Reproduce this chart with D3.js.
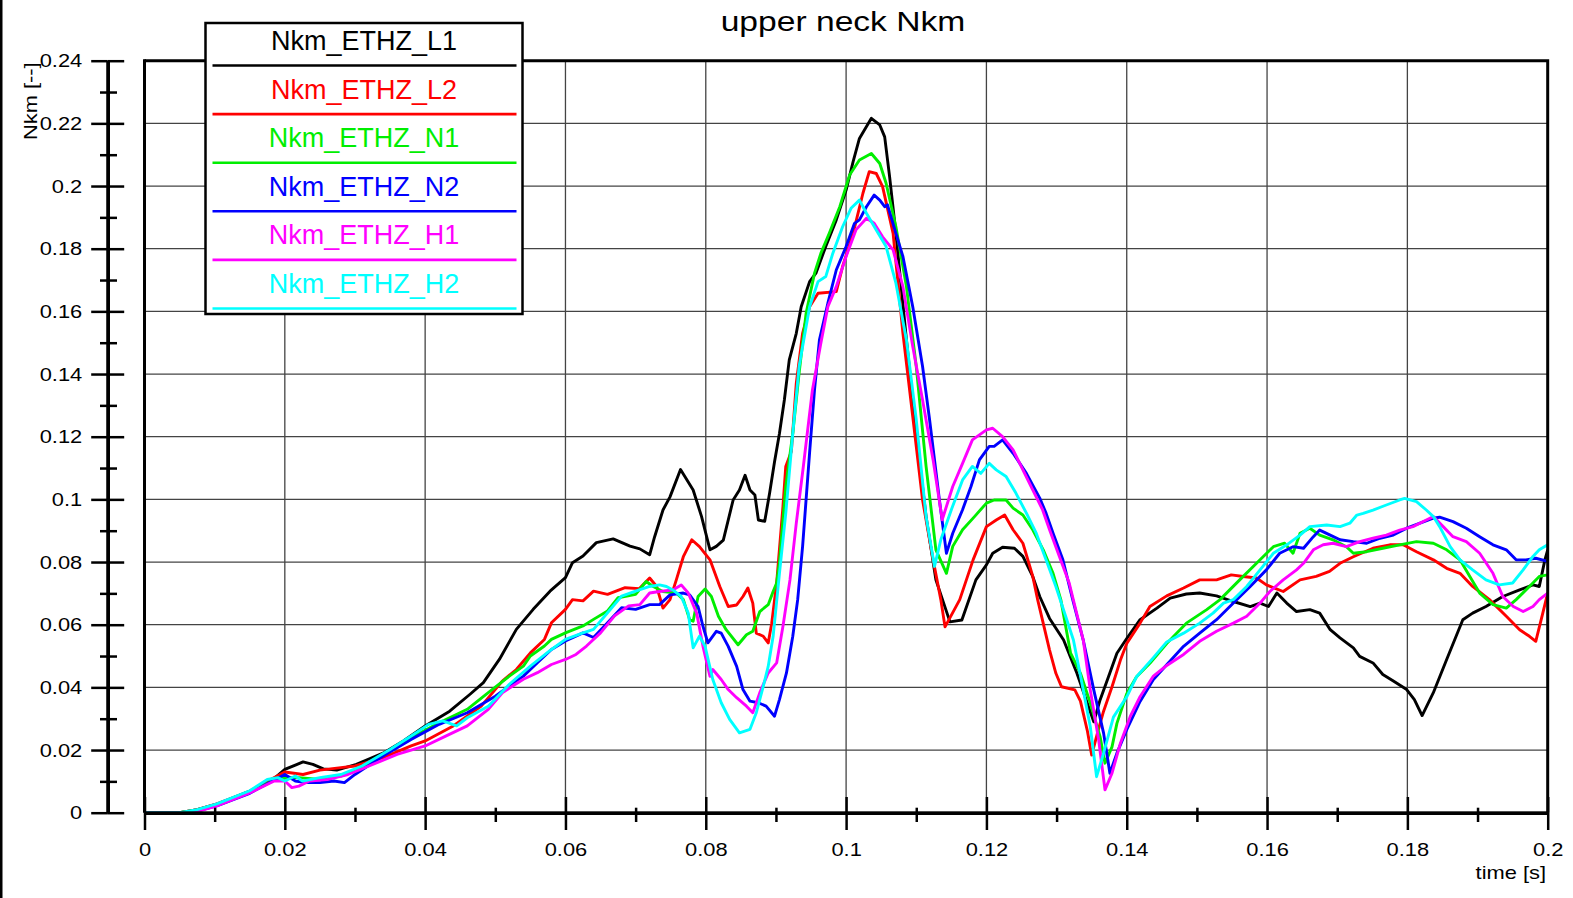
<!DOCTYPE html>
<html>
<head>
<meta charset="utf-8">
<script src="https://cdn.jsdelivr.net/npm/d3@7"></script>
<style>
  body { margin: 0; background: #fff; }
  svg { display: block; font-family: "Liberation Sans", Arial, sans-serif; }
</style>
</head>
<body>
<div id="chart"></div>
<script>
// tick values
let xMajor = [0, 0.02, 0.04, 0.06, 0.08, 0.1, 0.12, 0.14, 0.16, 0.18, 0.2];
let xMinor = [0.01, 0.03, 0.05, 0.07, 0.09, 0.11, 0.13, 0.15, 0.17, 0.19];
let yMajor = [0, 0.02, 0.04, 0.06, 0.08, 0.1, 0.12, 0.14, 0.16, 0.18, 0.2, 0.22, 0.24];
let yMinor = [0.01, 0.03, 0.05, 0.07, 0.09, 0.11, 0.13, 0.15, 0.17, 0.19, 0.21, 0.23];

let names = ["Nkm_ETHZ_L1", "Nkm_ETHZ_L2", "Nkm_ETHZ_N1", "Nkm_ETHZ_N2", "Nkm_ETHZ_H1", "Nkm_ETHZ_H2"];
let colors = ["#000000", "#ff0000", "#00ee00", "#0000ff", "#ff00ff", "#00ffff"];

// [time s, Nkm]
let nkmL1 = [[0,0],[0.005,0],[0.0075,0.001],[0.0103,0.0027],[0.015,0.0069],[0.0183,0.0106],[0.02,0.0138],[0.0215,0.0152],[0.0226,0.0162],[0.024,0.0154],[0.0255,0.014],[0.0274,0.0136],[0.0302,0.0154],[0.034,0.019],[0.0369,0.0229],[0.04,0.0277],[0.0435,0.0324],[0.0464,0.0378],[0.0483,0.0415],[0.0506,0.049],[0.053,0.0585],[0.0554,0.0649],[0.0578,0.0707],[0.06,0.075],[0.061,0.0798],[0.0625,0.0819],[0.0644,0.0862],[0.0668,0.0874],[0.0692,0.0851],[0.0706,0.0842],[0.072,0.0823],[0.0727,0.088],[0.0739,0.0966],[0.0749,0.1008],[0.0764,0.1095],[0.0782,0.103],[0.0794,0.0945],[0.0806,0.0839],[0.0815,0.085],[0.0825,0.087],[0.0839,0.0998],[0.0848,0.103],[0.0856,0.1077],[0.0863,0.103],[0.087,0.1014],[0.0875,0.0934],[0.0884,0.093],[0.0891,0.102],[0.0898,0.112],[0.0905,0.121],[0.0912,0.1317],[0.0919,0.1445],[0.0929,0.153],[0.0936,0.1615],[0.0948,0.1695],[0.0957,0.1722],[0.0971,0.1807],[0.0986,0.1892],[0.1,0.1987],[0.101,0.2078],[0.1019,0.2152],[0.1036,0.2216],[0.1048,0.2195],[0.1055,0.2157],[0.1062,0.203],[0.1071,0.1849],[0.1086,0.1509],[0.11,0.1211],[0.1114,0.0945],[0.1128,0.0743],[0.1148,0.0609],[0.1165,0.0615],[0.1185,0.0743],[0.12,0.0791],[0.1209,0.0828],[0.1223,0.0847],[0.124,0.0844],[0.1252,0.0818],[0.1266,0.0754],[0.1276,0.069],[0.129,0.062],[0.131,0.0551],[0.1329,0.0445],[0.1353,0.029],[0.1362,0.036],[0.1374,0.0434],[0.1386,0.0509],[0.14,0.0556],[0.1419,0.0616],[0.1443,0.0653],[0.1462,0.0685],[0.1485,0.0698],[0.1504,0.0701],[0.1528,0.0692],[0.1552,0.0674],[0.1576,0.0658],[0.159,0.0669],[0.1602,0.0658],[0.1614,0.0701],[0.1628,0.0669],[0.1642,0.0642],[0.1661,0.0648],[0.1675,0.0637],[0.169,0.0584],[0.1704,0.0558],[0.1723,0.0526],[0.1732,0.0499],[0.1751,0.0478],[0.1765,0.0441],[0.178,0.042],[0.1799,0.0393],[0.181,0.0361],[0.1821,0.031],[0.1837,0.0383],[0.1856,0.0489],[0.1879,0.0616],[0.1893,0.0637],[0.1912,0.0658],[0.1936,0.069],[0.196,0.0711],[0.1979,0.0727],[0.1988,0.0722],[0.1996,0.0807],[0.2,0.0839]];

let nkmL2 = [[0,0],[0.005,0],[0.0075,0.001],[0.0103,0.0028],[0.015,0.0068],[0.0183,0.011],[0.02,0.013],[0.0226,0.0122],[0.025,0.0136],[0.028,0.0144],[0.03,0.0149],[0.034,0.0176],[0.038,0.0213],[0.04,0.0229],[0.044,0.0277],[0.048,0.034],[0.051,0.042],[0.053,0.0457],[0.055,0.051],[0.057,0.0553],[0.058,0.0606],[0.06,0.0649],[0.061,0.068],[0.0625,0.0676],[0.064,0.0707],[0.066,0.0697],[0.0685,0.0718],[0.0705,0.0715],[0.072,0.0749],[0.073,0.0722],[0.0739,0.0653],[0.0749,0.068],[0.0758,0.0743],[0.0768,0.0817],[0.078,0.0871],[0.0791,0.0849],[0.0806,0.0807],[0.082,0.0722],[0.0832,0.0658],[0.0844,0.0663],[0.0853,0.069],[0.086,0.0717],[0.0867,0.0669],[0.0872,0.0573],[0.0882,0.0563],[0.0889,0.0542],[0.0894,0.0605],[0.0901,0.0733],[0.091,0.0977],[0.0914,0.1105],[0.0922,0.1153],[0.0929,0.137],[0.0938,0.153],[0.0948,0.1615],[0.096,0.1658],[0.0986,0.1663],[0.0995,0.1743],[0.101,0.1849],[0.1024,0.1977],[0.1033,0.2046],[0.1043,0.204],[0.1052,0.1998],[0.1067,0.1849],[0.1081,0.153],[0.1095,0.1264],[0.1109,0.0998],[0.1124,0.0807],[0.1135,0.068],[0.1141,0.0593],[0.1162,0.068],[0.1181,0.0807],[0.12,0.0913],[0.1214,0.0934],[0.1226,0.095],[0.1238,0.0903],[0.1252,0.086],[0.1266,0.0755],[0.1273,0.068],[0.129,0.0519],[0.1299,0.0445],[0.1307,0.0402],[0.1326,0.0392],[0.1334,0.0356],[0.1344,0.026],[0.135,0.0184],[0.1359,0.026],[0.1367,0.0324],[0.1379,0.0402],[0.1391,0.0487],[0.14,0.054],[0.1419,0.0605],[0.1433,0.0658],[0.1457,0.0692],[0.1481,0.0717],[0.1504,0.0743],[0.1528,0.0743],[0.1549,0.0759],[0.1566,0.0754],[0.1585,0.0749],[0.1599,0.0727],[0.1623,0.0706],[0.1647,0.0743],[0.167,0.0754],[0.1689,0.077],[0.1704,0.0796],[0.1723,0.0817],[0.1751,0.0844],[0.1775,0.0855],[0.1794,0.0855],[0.1813,0.0833],[0.1837,0.0807],[0.1856,0.078],[0.1875,0.0764],[0.1893,0.0722],[0.1917,0.068],[0.1941,0.0627],[0.196,0.0584],[0.1974,0.0563],[0.1983,0.0547],[0.1993,0.0637],[0.2,0.0701]];

let nkmN1 = [[0,0],[0.005,0],[0.0075,0.0009],[0.0103,0.0026],[0.015,0.0066],[0.0183,0.0103],[0.02,0.0112],[0.022,0.0112],[0.025,0.0106],[0.028,0.0117],[0.03,0.0133],[0.034,0.0186],[0.038,0.0239],[0.042,0.0287],[0.046,0.033],[0.049,0.0383],[0.052,0.0436],[0.054,0.0468],[0.055,0.05],[0.057,0.0532],[0.058,0.0553],[0.06,0.0574],[0.0625,0.0596],[0.064,0.0617],[0.066,0.0644],[0.0675,0.0686],[0.07,0.0697],[0.0715,0.0738],[0.0725,0.0722],[0.0739,0.0706],[0.0758,0.0701],[0.0768,0.068],[0.0777,0.0616],[0.0782,0.0611],[0.0789,0.069],[0.0799,0.0714],[0.0808,0.069],[0.0818,0.0627],[0.0829,0.0584],[0.0846,0.0536],[0.0858,0.0568],[0.0867,0.0579],[0.0877,0.0642],[0.0889,0.0664],[0.0896,0.0706],[0.0901,0.0733],[0.0905,0.08],[0.0914,0.1041],[0.0924,0.1211],[0.0933,0.1403],[0.0943,0.1594],[0.0955,0.1722],[0.0964,0.1785],[0.0976,0.1849],[0.0991,0.1934],[0.1005,0.2035],[0.1019,0.2083],[0.1036,0.2104],[0.1048,0.2072],[0.1057,0.2009],[0.1071,0.187],[0.1086,0.1679],[0.11,0.1424],[0.1114,0.1105],[0.1128,0.0839],[0.1143,0.0764],[0.1152,0.085],[0.1166,0.0903],[0.1183,0.0945],[0.12,0.0988],[0.1211,0.0998],[0.1228,0.0998],[0.1238,0.0972],[0.1252,0.095],[0.1266,0.0903],[0.1281,0.0839],[0.1295,0.0764],[0.1306,0.068],[0.132,0.0509],[0.1334,0.0445],[0.1348,0.035],[0.1362,0.0243],[0.1369,0.0158],[0.1379,0.021],[0.1386,0.0285],[0.14,0.038],[0.1414,0.0434],[0.1433,0.0477],[0.1457,0.054],[0.1485,0.0605],[0.1514,0.0648],[0.1533,0.068],[0.1561,0.0743],[0.1585,0.0796],[0.1609,0.0849],[0.1625,0.086],[0.1637,0.0828],[0.1647,0.0892],[0.1661,0.0908],[0.1675,0.0886],[0.1694,0.0871],[0.1713,0.0849],[0.1723,0.0828],[0.1742,0.0833],[0.1765,0.0844],[0.1789,0.0855],[0.1813,0.0865],[0.1837,0.086],[0.1856,0.0839],[0.1875,0.0807],[0.1889,0.0754],[0.1903,0.0701],[0.1922,0.0664],[0.1941,0.0653],[0.1955,0.068],[0.1974,0.0722],[0.1988,0.0754],[0.2,0.0759]];

let nkmN2 = [[0,0],[0.006,0],[0.008,0.0008],[0.0103,0.0022],[0.015,0.0062],[0.0183,0.0102],[0.02,0.0122],[0.0215,0.0101],[0.023,0.0096],[0.025,0.0096],[0.027,0.0101],[0.0285,0.0096],[0.03,0.0122],[0.034,0.0181],[0.038,0.0234],[0.042,0.0282],[0.046,0.0319],[0.05,0.0372],[0.054,0.0436],[0.056,0.0479],[0.058,0.0521],[0.06,0.0548],[0.0625,0.0574],[0.064,0.0559],[0.066,0.0606],[0.068,0.0654],[0.07,0.0649],[0.072,0.0664],[0.0734,0.0664],[0.0749,0.0695],[0.0768,0.0701],[0.0777,0.0695],[0.0789,0.0658],[0.0796,0.0595],[0.0803,0.0542],[0.0815,0.0579],[0.0822,0.0573],[0.0832,0.0531],[0.0844,0.0467],[0.0853,0.0393],[0.0863,0.0356],[0.0875,0.0351],[0.0886,0.034],[0.0898,0.0308],[0.0905,0.0361],[0.0915,0.0446],[0.0924,0.0563],[0.0931,0.068],[0.0938,0.085],[0.0948,0.115],[0.0955,0.135],[0.0962,0.1509],[0.0974,0.1626],[0.0986,0.1732],[0.1,0.1807],[0.1012,0.1881],[0.1019,0.1892],[0.1029,0.1934],[0.104,0.1971],[0.1048,0.1955],[0.1055,0.1934],[0.1059,0.194],[0.1071,0.1849],[0.1081,0.1775],[0.1095,0.1615],[0.1109,0.1424],[0.1119,0.1254],[0.1133,0.0998],[0.1143,0.0828],[0.1152,0.0892],[0.1166,0.0967],[0.1178,0.1041],[0.119,0.1126],[0.1204,0.1169],[0.1211,0.1169],[0.1223,0.119],[0.1238,0.1147],[0.1257,0.1083],[0.1276,0.1004],[0.1285,0.0956],[0.1295,0.0892],[0.1309,0.0807],[0.1323,0.068],[0.1338,0.0551],[0.1353,0.0392],[0.1367,0.0254],[0.1376,0.0126],[0.1386,0.019],[0.14,0.0265],[0.1419,0.0355],[0.1438,0.0425],[0.1457,0.0472],[0.1481,0.0531],[0.1504,0.0573],[0.1528,0.0616],[0.1552,0.0669],[0.1576,0.0722],[0.1599,0.0775],[0.1618,0.0828],[0.1637,0.0849],[0.1652,0.0844],[0.1666,0.0881],[0.1675,0.0902],[0.169,0.0886],[0.1704,0.0871],[0.1723,0.0865],[0.1742,0.086],[0.1761,0.0876],[0.178,0.0886],[0.1799,0.0908],[0.1818,0.0924],[0.1837,0.094],[0.1846,0.0943],[0.1865,0.0929],[0.1884,0.0908],[0.1903,0.0881],[0.1922,0.0855],[0.1941,0.0839],[0.1955,0.0807],[0.1969,0.0807],[0.1983,0.0812],[0.2,0.0802]];

let nkmH1 = [[0,0],[0.006,0],[0.008,0.0007],[0.0103,0.0022],[0.015,0.0063],[0.0185,0.0101],[0.02,0.0101],[0.021,0.008],[0.022,0.0085],[0.0235,0.0101],[0.026,0.0106],[0.029,0.0122],[0.032,0.0149],[0.036,0.0186],[0.04,0.0213],[0.043,0.0245],[0.046,0.0277],[0.049,0.033],[0.051,0.0383],[0.054,0.0426],[0.056,0.0447],[0.058,0.0473],[0.06,0.0489],[0.0615,0.0505],[0.063,0.0532],[0.065,0.0574],[0.067,0.0628],[0.069,0.066],[0.0706,0.0664],[0.072,0.0701],[0.0734,0.0706],[0.0753,0.0711],[0.0765,0.0727],[0.0775,0.0701],[0.0787,0.0637],[0.0796,0.0531],[0.0806,0.0435],[0.081,0.0457],[0.0822,0.0425],[0.0832,0.0393],[0.0844,0.0367],[0.0858,0.034],[0.0867,0.0319],[0.0877,0.0383],[0.0889,0.0446],[0.0901,0.0478],[0.091,0.0595],[0.092,0.0743],[0.0929,0.0924],[0.0939,0.1104],[0.0952,0.1349],[0.0964,0.1498],[0.0974,0.1615],[0.0986,0.1679],[0.1,0.1775],[0.1014,0.186],[0.1029,0.1897],[0.104,0.1881],[0.1052,0.1838],[0.1067,0.1796],[0.1081,0.1679],[0.1095,0.1488],[0.1109,0.1317],[0.1124,0.1126],[0.1137,0.0935],[0.1152,0.1041],[0.1166,0.1115],[0.118,0.119],[0.12,0.1222],[0.1209,0.1227],[0.1223,0.12],[0.1238,0.1158],[0.1252,0.1094],[0.1266,0.103],[0.128,0.0967],[0.129,0.0903],[0.1304,0.0818],[0.1318,0.0733],[0.1338,0.0551],[0.1348,0.0392],[0.136,0.0232],[0.1369,0.0073],[0.1379,0.0126],[0.1391,0.0222],[0.1405,0.0307],[0.1419,0.037],[0.1438,0.0436],[0.1457,0.047],[0.1481,0.0505],[0.1504,0.0547],[0.1528,0.0579],[0.1552,0.0605],[0.1571,0.0627],[0.159,0.0669],[0.1604,0.0706],[0.1623,0.0743],[0.1642,0.0775],[0.1652,0.0796],[0.1666,0.0839],[0.168,0.0855],[0.1694,0.086],[0.1713,0.0849],[0.1732,0.0865],[0.1751,0.0876],[0.177,0.0886],[0.1789,0.0902],[0.1808,0.0913],[0.1827,0.0934],[0.1837,0.0945],[0.1851,0.0913],[0.1865,0.0881],[0.1884,0.0865],[0.1903,0.0828],[0.1922,0.0764],[0.1936,0.069],[0.1951,0.0658],[0.1965,0.0642],[0.1979,0.0658],[0.1988,0.068],[0.2,0.0701]];

let nkmH2 = [[0,0],[0.005,0],[0.0075,0.001],[0.0103,0.0028],[0.015,0.007],[0.0175,0.0106],[0.019,0.0112],[0.02,0.0101],[0.0215,0.0117],[0.0225,0.0101],[0.025,0.0112],[0.028,0.0122],[0.031,0.0149],[0.035,0.0202],[0.038,0.0245],[0.0405,0.0282],[0.0425,0.0293],[0.0445,0.0277],[0.046,0.0303],[0.049,0.034],[0.052,0.041],[0.055,0.0468],[0.058,0.0521],[0.06,0.0553],[0.0625,0.0574],[0.064,0.0585],[0.066,0.0638],[0.068,0.0691],[0.07,0.0707],[0.072,0.0722],[0.0734,0.0727],[0.0744,0.0722],[0.0753,0.0711],[0.0765,0.069],[0.0775,0.0637],[0.0782,0.0526],[0.0791,0.0563],[0.0799,0.0531],[0.081,0.0425],[0.0822,0.0351],[0.0834,0.0298],[0.0848,0.0255],[0.0863,0.0266],[0.0872,0.0319],[0.0882,0.0404],[0.0889,0.0467],[0.0896,0.0563],[0.0905,0.0764],[0.0914,0.0955],[0.0924,0.1211],[0.0933,0.1424],[0.0948,0.1615],[0.096,0.1695],[0.0971,0.1711],[0.0981,0.1785],[0.0995,0.187],[0.1007,0.1929],[0.1019,0.1955],[0.1029,0.1913],[0.1043,0.186],[0.1057,0.1807],[0.1071,0.169],[0.1086,0.1509],[0.11,0.1254],[0.1114,0.0945],[0.1126,0.0786],[0.1135,0.0871],[0.115,0.0967],[0.1166,0.1062],[0.118,0.1105],[0.1192,0.1083],[0.1204,0.1115],[0.1214,0.1094],[0.1228,0.1073],[0.1242,0.102],[0.1257,0.0956],[0.1271,0.0892],[0.1285,0.0807],[0.1299,0.0722],[0.1324,0.0551],[0.1338,0.0392],[0.1348,0.0275],[0.1357,0.0115],[0.1367,0.019],[0.1381,0.0305],[0.14,0.037],[0.1414,0.0434],[0.1438,0.0495],[0.1457,0.0545],[0.1481,0.0573],[0.1504,0.0605],[0.1523,0.0637],[0.1538,0.0669],[0.1552,0.068],[0.1571,0.0722],[0.159,0.0775],[0.1609,0.0828],[0.1628,0.0855],[0.1647,0.0886],[0.1661,0.0913],[0.1685,0.0918],[0.1704,0.0913],[0.1718,0.0924],[0.1728,0.095],[0.1737,0.0955],[0.1751,0.0966],[0.177,0.0982],[0.1789,0.0998],[0.1796,0.1003],[0.1813,0.0993],[0.1827,0.0966],[0.1837,0.0945],[0.1846,0.0913],[0.1861,0.0849],[0.1875,0.0807],[0.1893,0.0775],[0.1912,0.0743],[0.1931,0.0727],[0.195,0.0733],[0.1965,0.0775],[0.1979,0.0818],[0.1988,0.0839],[0.2,0.0855]];

let series = [nkmL1, nkmL2, nkmN1, nkmN2, nkmH1, nkmH2];

// page layout
let width = 1573, height = 898;
let pLeft = 144.5, pRight = 1547.7, pTop = 60.7, pBottom = 812.7;
let yAxisX = 107.7;

let svg = d3.select("#chart").append("svg")
	.attr("width", width)
	.attr("height", height);

let x = d3.scaleLinear().domain([0, 0.2]).range([pLeft, pRight]);
let y = d3.scaleLinear().domain([0, 0.24]).range([pBottom, pTop]);

let fmt = (d) => String(+d.toFixed(2));

// widen text a bit, the original font runs wider than Liberation Sans
function stretch(sel, k) {
	sel.each(function () {
		let w = this.getComputedTextLength();
		d3.select(this).attr("textLength", w * k).attr("lengthAdjust", "spacingAndGlyphs");
	});
}

// black strip on the left edge of the picture
svg.append("rect").attr("x", 0).attr("y", 0).attr("width", 2.5).attr("height", height).attr("fill", "#000");

// grid
svg.append("g").selectAll("line")
	.data(xMajor.slice(1, -1)).enter().append("line")
	.attr("x1", (d) => x(d)).attr("x2", (d) => x(d))
	.attr("y1", pTop).attr("y2", pBottom)
	.attr("stroke", "#444").attr("stroke-width", 1.3);
svg.append("g").selectAll("line")
	.data(yMajor.slice(1, -1)).enter().append("line")
	.attr("y1", (d) => y(d)).attr("y2", (d) => y(d))
	.attr("x1", pLeft).attr("x2", pRight)
	.attr("stroke", "#444").attr("stroke-width", 1.3);

// curves
let line = d3.line().x((d) => x(d[0])).y((d) => y(d[1]));
svg.append("g").selectAll("path")
	.data(series).enter().append("path")
	.attr("d", line)
	.attr("fill", "none")
	.attr("stroke", (d, i) => colors[i])
	.attr("stroke-width", 2.9)
	.attr("stroke-linejoin", "round");

// frame: top, right and left
svg.append("path")
	.attr("d", `M${pLeft},${pTop}H${pRight}V${pBottom}`)
	.attr("fill", "none").attr("stroke", "#000").attr("stroke-width", 3);
svg.append("line")
	.attr("x1", pLeft).attr("x2", pLeft).attr("y1", pTop - 1.5).attr("y2", pBottom)
	.attr("stroke", "#000").attr("stroke-width", 3);

function styleAxis(g, w) {
	g.select(".domain").attr("stroke-width", 3);
	g.selectAll(".tick line").attr("stroke-width", w);
	g.selectAll("text").attr("font-size", 19).attr("font-family", "'Liberation Sans', Arial, sans-serif").attr("fill", "#000");
}

// y axis, standing apart from the plot
let yAxisG = svg.append("g").attr("transform", `translate(${yAxisX},0)`)
	.call(d3.axisLeft(y).tickValues(yMajor).tickSize(16.5).tickSizeOuter(0).tickPadding(9).tickFormat(fmt))
	.call(styleAxis, 2.5);
yAxisG.selectAll("text").attr("dy", "0.33em");
stretch(yAxisG.selectAll("text"), 1.15);
svg.append("g").attr("transform", `translate(${yAxisX},0)`)
	.call(d3.axisRight(y).tickValues(yMajor).tickSize(16.5).tickSizeOuter(0).tickFormat(""))
	.call(styleAxis, 2.5);
svg.append("g").attr("transform", `translate(${yAxisX},0)`)
	.call(d3.axisLeft(y).tickValues(yMinor).tickSize(7.7).tickSizeOuter(0).tickFormat(""))
	.call(styleAxis, 2.5);
svg.append("g").attr("transform", `translate(${yAxisX},0)`)
	.call(d3.axisRight(y).tickValues(yMinor).tickSize(9.3).tickSizeOuter(0).tickFormat(""))
	.call(styleAxis, 2.5);

// x axis on the bottom edge of the plot
let xAxisG = svg.append("g").attr("transform", `translate(0,${pBottom})`)
	.call(d3.axisBottom(x).tickValues(xMajor).tickSize(17.3).tickSizeOuter(0).tickPadding(12.5).tickFormat(fmt))
	.call(styleAxis, 2.5);
stretch(xAxisG.selectAll("text"), 1.15);
svg.append("g").attr("transform", `translate(0,${pBottom})`)
	.call(d3.axisTop(x).tickValues(xMajor).tickSize(15.7).tickSizeOuter(0).tickFormat(""))
	.call(styleAxis, 2.5);
svg.append("g").attr("transform", `translate(0,${pBottom})`)
	.call(d3.axisBottom(x).tickValues(xMinor).tickSize(9.3).tickSizeOuter(0).tickFormat(""))
	.call(styleAxis, 2.5);
svg.append("g").attr("transform", `translate(0,${pBottom})`)
	.call(d3.axisTop(x).tickValues(xMinor).tickSize(5).tickSizeOuter(0).tickFormat(""))
	.call(styleAxis, 2.5);

// titles
let title = svg.append("text")
	.attr("x", 843).attr("y", 31)
	.attr("text-anchor", "middle")
	.attr("font-size", 28)
	.text("upper neck Nkm");
stretch(title, 1.2);

let xTitle = svg.append("text")
	.attr("x", 1546).attr("y", 879)
	.attr("text-anchor", "end")
	.attr("font-size", 19)
	.text("time [s]");
stretch(xTitle, 1.15);

let yTitle = svg.append("text")
	.attr("transform", "translate(37,140) rotate(-90)")
	.attr("text-anchor", "start")
	.attr("font-size", 19)
	.text("Nkm [--]");
stretch(yTitle, 1.15);

// legend
let legX = 205.5, legY = 23, legW = 317, legH = 291;
let legend = svg.append("g");
legend.append("rect")
	.attr("x", legX).attr("y", legY).attr("width", legW).attr("height", legH)
	.attr("fill", "#fff").attr("stroke", "#000").attr("stroke-width", 2.5);
let rowStep = 48.6, firstLine = 65.5;
let rows = legend.selectAll("g.row").data(names).enter().append("g").attr("class", "row");
rows.append("text")
	.attr("x", legX + legW / 2)
	.attr("y", (d, i) => firstLine + i * rowStep - 15.5)
	.attr("text-anchor", "middle")
	.attr("font-size", 27)
	.attr("fill", (d, i) => colors[i])
	.text((d) => d);
rows.append("line")
	.attr("x1", 212.5).attr("x2", 516.5)
	.attr("y1", (d, i) => firstLine + i * rowStep)
	.attr("y2", (d, i) => firstLine + i * rowStep)
	.attr("stroke", (d, i) => colors[i])
	.attr("stroke-width", 2.6);
</script>
</body>
</html>
